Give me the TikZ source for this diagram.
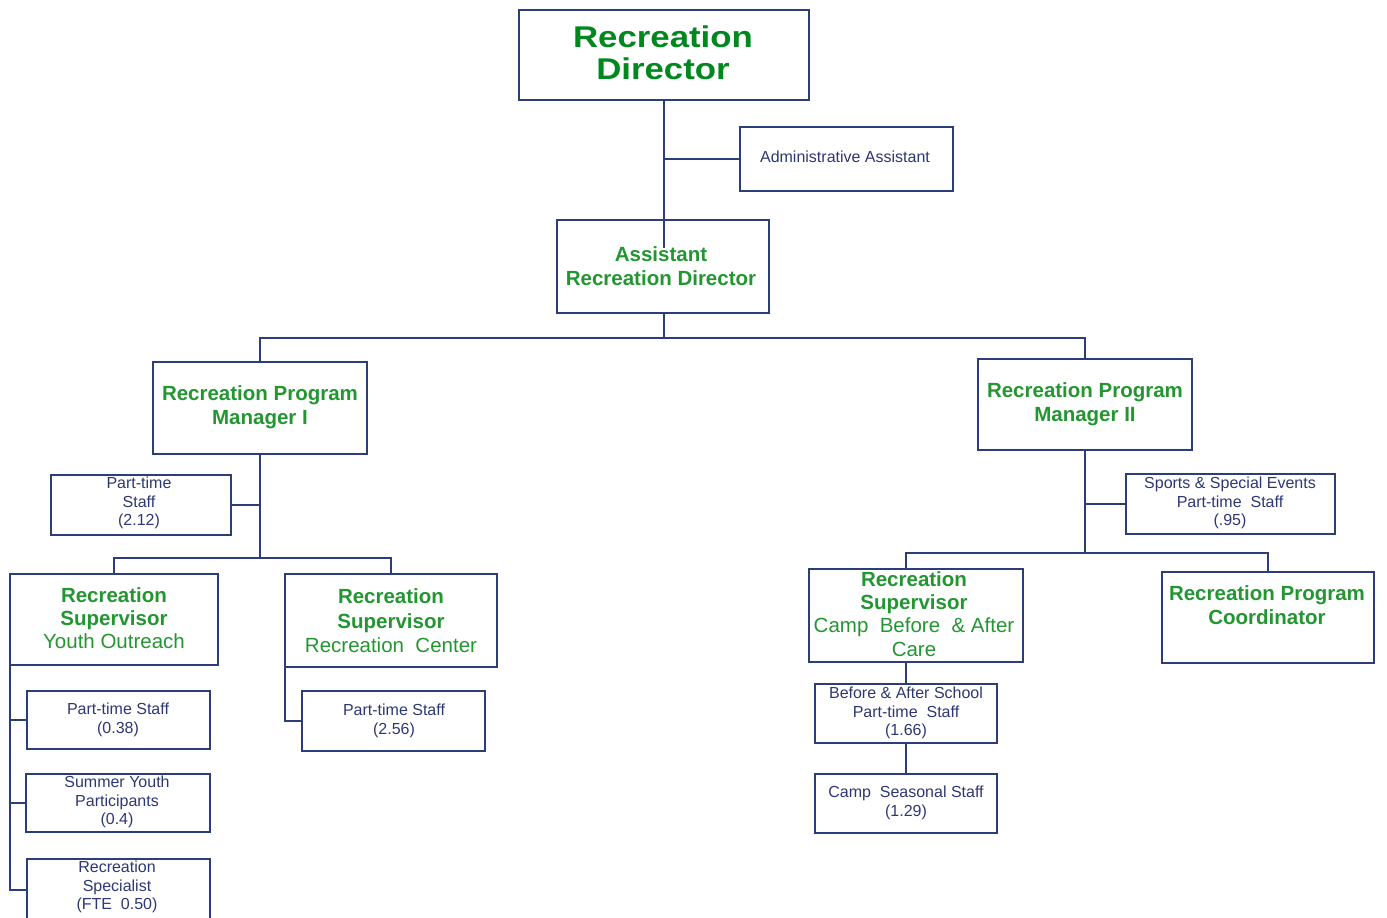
\documentclass[tikz,border=0pt]{standalone}
\usepackage{fontspec}
\setmainfont{Liberation Sans}
\newfontfamily\widefont[FakeStretch=1.16]{Liberation Sans}
\usetikzlibrary{calc}
\definecolor{lineblue}{RGB}{44,62,120}
\definecolor{txtblue}{RGB}{45,55,115}
\definecolor{titlegreen}{RGB}{0,135,30}
\definecolor{boxgreen}{RGB}{35,150,50}
\tikzset{
  box/.style={draw=lineblue, line width=2pt, inner sep=0pt, outer sep=0pt},
  conn/.style={draw=lineblue, line width=2pt},
  small/.style={text=txtblue, align=center, font=\fontsize{16}{18.8}\selectfont, inner sep=0pt},
  big/.style={text=boxgreen, align=center, font=\bfseries\fontsize{20.5}{24}\selectfont, inner sep=0pt},
  title/.style={text=titlegreen, align=center, font=\widefont\bfseries\fontsize{30}{32}\selectfont, inner sep=0pt},
}
\newcommand\bx[5]{\node[box, minimum width={(#4)-(#2)}, minimum height={(#5)-(#3)}] (#1) at ({((#2)+(#4))/2},{((#3)+(#5))/2}) {};}
\begin{document}
\begin{tikzpicture}[x=1pt,y=-1pt]
\useasboundingbox (0,0) rectangle (1387,918);
% boxes
\bx{rd}{519}{10}{809}{100}
\bx{aa}{740}{127}{953}{191}
\bx{ard}{557}{220}{769}{313}
\bx{m1}{153}{362}{367}{454}
\bx{m2}{978}{359}{1192}{450}
\bx{pta}{51}{475}{231}{535}
\bx{s1}{10}{574}{218}{665}
\bx{s2}{285}{574}{497}{667}
\bx{ptb}{27}{691}{210}{749}
\bx{sy}{26}{774}{210}{832}
\bx{rs}{27}{859}{210}{921}
\bx{ptc}{302}{691}{485}{751}
\bx{sp}{1126}{474}{1335}{534}
\bx{s3}{809}{569}{1023}{662}
\bx{co}{1162}{572}{1374}{663}
\bx{ba}{815}{684}{997}{743}
\bx{cs}{815}{774}{997}{833}
% texts
\node[title] (rdT) at (663,53) {Recreation\\Director};
\node[small] (aaT) at (845,157) {Administrative Assistant};
\node[big] (ardT) at (661,266) {Assistant\\Recreation Director};
\node[big] (m1T) at (260,407) {Recreation Program\\Manager I};
\node[big] (m2T) at (1085,404) {Recreation Program\\Manager II};
\node[small] (ptaT) at (139,503) {Part-time\\Staff\\(2.12)};
\node[big, font=\fontsize{20.5}{23}\selectfont] (s1T) at (114,618) {\textbf{Recreation}\\\textbf{Supervisor}\\Youth Outreach};
\node[big, font=\fontsize{20.5}{24.5}\selectfont] (s2T) at (391,621) {\textbf{Recreation}\\\textbf{Supervisor}\\Recreation\ \ Center};
\node[small] (ptbT) at (118,720) {Part-time Staff\\(0.38)};
\node[small] (syT) at (117,802) {Summer Youth\\Participants\\(0.4)};
\node[small] (rsT) at (117,887) {Recreation\\Specialist\\(FTE\ \ 0.50)};
\node[small] (ptcT) at (394,721) {Part-time Staff\\(2.56)};
\node[small] (spT) at (1230,503) {Sports \& Special Events\\Part-time\ \ Staff\\(.95)};
\node[big, font=\fontsize{20.5}{23.3}\selectfont] (s3T) at (914,614) {\textbf{Recreation}\\\textbf{Supervisor}\\Camp\ \ Before\ \ \& After\\Care};
\node[big] (coT) at (1267,605) {Recreation Program\\Coordinator};
\node[small] (baT) at (906,713) {Before \& After School\\Part-time\ \ Staff\\(1.66)};
\node[small] (csT) at (906,803) {Camp\ \ Seasonal Staff\\(1.29)};
% connectors
\coordinate (ardin) at (664,248);
\coordinate (busA) at (664,338);
\coordinate (busB) at (260,558);
\coordinate (busC) at (1085,553);
\draw[conn] (rd.south) -- (ardin);
\draw[conn] (aa.west) -- (aa.west -| rd.south);
\draw[conn] (ard.south -| rd.south) -- (busA);
\draw[conn] (m1.north) |- (busA) -| (m2.north);
\draw[conn] (m1.south) -- (m1.south |- busB);
\draw[conn] (pta.east) -- (pta.east -| m1.south);
\draw[conn] (s1.north) |- (busB) -| (s2.north);
\draw[conn] (s1.south west) |- (rs.west);
\draw[conn] (ptb.west) -- (ptb.west -| s1.south west);
\draw[conn] (sy.west) -- (sy.west -| s1.south west);
\draw[conn] (s2.south west) |- (ptc.west);
\draw[conn] (m2.south) -- (busC);
\draw[conn] (sp.west) -- (sp.west -| m2.south);
\draw[conn] (s3.north -| ba.north) |- (busC) -| (co.north);
\draw[conn] (s3.south -| ba.north) -- (ba.north);
\draw[conn] (ba.south) -- (cs.north);
\end{tikzpicture}
\end{document}
